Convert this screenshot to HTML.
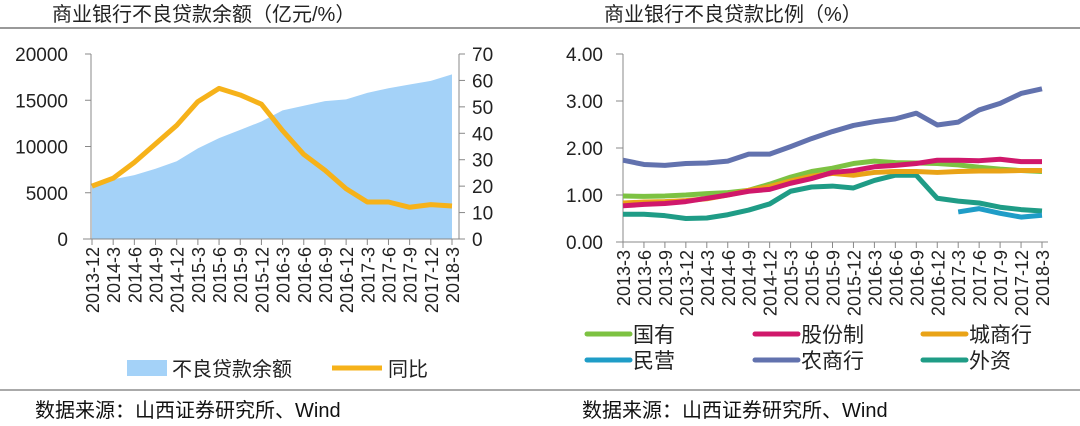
<!DOCTYPE html>
<html><head><meta charset="utf-8"><style>
body{margin:0;background:#fff;width:1080px;height:421px;overflow:hidden}
svg text{font-family:"Liberation Sans","Noto Sans CJK SC",sans-serif}
</style></head><body>
<svg id="s" width="1080" height="421" xmlns="http://www.w3.org/2000/svg">
<line x1="0" y1="28" x2="1080" y2="28" stroke="#333" stroke-width="1"/>
<line x1="0" y1="390" x2="1080" y2="390" stroke="#555" stroke-width="1"/>
<text x="52" y="21" font-size="20" fill="#222">商业银行不良贷款余额（亿元/%）</text>
<text x="604" y="21" font-size="20" fill="#222">商业银行不良贷款比例（%）</text>
<text x="35" y="417" font-size="20" fill="#111">数据来源：山西证券研究所、Wind</text>
<text x="582" y="417" font-size="20" fill="#111">数据来源：山西证券研究所、Wind</text>
<g id="L"></g><g id="R"></g>
<rect x="127" y="360" width="40" height="16" fill="#a4d2f8"/>
<text x="172" y="376" font-size="20" fill="#222" font-family="Liberation Serif,Noto Serif CJK SC,serif">不良贷款余额</text>
<line x1="332" y1="368" x2="382" y2="368" stroke="#f6b21a" stroke-width="5"/>
<text x="388" y="376" font-size="20" fill="#222" font-family="Liberation Serif,Noto Serif CJK SC,serif">同比</text>
</svg>
<script>
const NS="http://www.w3.org/2000/svg";
const leftCats=["2013-12","2014-3","2014-6","2014-9","2014-12","2015-3","2015-6","2015-9","2015-12","2016-3","2016-6","2016-9","2016-12","2017-3","2017-6","2017-9","2017-12","2018-3"];
const nplBalance=[5900,6450,6900,7600,8400,9800,10900,11800,12700,13900,14400,14900,15100,15800,16300,16700,17100,17800];
const nplYoy=[20,23,29,36,43,52,57,54.5,51,41,32,26,19,14,14,12,13,12.5];
const leftTicks=[0,5000,10000,15000,20000];
const rightTicksL=[0,10,20,30,40,50,60,70];
const rightCats=["2013-3","2013-6","2013-9","2013-12","2014-3","2014-6","2014-9","2014-12","2015-3","2015-6","2015-9","2015-12","2016-3","2016-6","2016-9","2016-12","2017-3","2017-6","2017-9","2017-12","2018-3"];
const stateOwned=[0.98,0.97,0.98,1.0,1.03,1.05,1.1,1.23,1.38,1.5,1.57,1.67,1.72,1.69,1.68,1.67,1.64,1.59,1.55,1.52,1.5];
const jointStock=[0.77,0.8,0.82,0.86,0.93,1.0,1.08,1.12,1.25,1.35,1.48,1.52,1.6,1.63,1.67,1.74,1.74,1.73,1.76,1.71,1.71];
const cityBank=[0.83,0.85,0.86,0.88,0.92,1.0,1.1,1.18,1.3,1.4,1.46,1.42,1.48,1.5,1.5,1.48,1.5,1.51,1.51,1.52,1.52];
const privateBank=[null,null,null,null,null,null,null,null,null,null,null,null,null,null,null,null,0.64,0.71,0.61,0.53,0.57];
const ruralBank=[1.74,1.65,1.63,1.67,1.68,1.72,1.87,1.87,2.03,2.2,2.35,2.48,2.56,2.62,2.74,2.49,2.55,2.81,2.95,3.16,3.26];
const foreignBank=[0.59,0.59,0.56,0.5,0.51,0.58,0.68,0.81,1.08,1.17,1.19,1.15,1.31,1.42,1.42,0.93,0.87,0.83,0.74,0.69,0.66];
const ratioTicks=[0,1,2,3,4];
const seriesNames=["国有","股份制","城商行","民营","农商行","外资"];

function el(t,a,p){const e=document.createElementNS(NS,t);for(const k in a)e.setAttribute(k,a[k]);p.appendChild(e);return e;}
const L=document.getElementById('L'),R=document.getElementById('R');
const lx0=92,lx1=452,ly0=239,ly1=54;
const lx=i=>lx0+i*(lx1-lx0)/(leftCats.length-1);
const ly=v=>ly0-(v/20000)*(ly0-ly1);
const ry=v=>ly0-(v/70)*(ly0-ly1);
let d=`M${lx(0)},${ly0}`;nplBalance.forEach((v,i)=>d+=` L${lx(i)},${ly(v)}`);d+=` L${lx(nplBalance.length-1)},${ly0}Z`;
let a=el('path',{d,fill:'#a4d2f8'},L);


el('line',{x1:lx0-1,y1:ly1,x2:lx0-1,y2:ly0,stroke:'#888'},L);
el('line',{x1:459,y1:ly1,x2:459,y2:ly0,stroke:'#888'},L);
el('line',{x1:lx0-9,y1:ly0,x2:459,y2:ly0,stroke:'#888'},L);
leftTicks.forEach(v=>{el('line',{x1:lx0-7,y1:ly(v),x2:lx0-1,y2:ly(v),stroke:'#888'},L);
 const t=el('text',{x:68,y:ly(v)+7,'font-size':19,'text-anchor':'end',fill:'#222'},L);t.textContent=v;
 
 });
rightTicksL.forEach(v=>{el('line',{x1:459,y1:ry(v),x2:465,y2:ry(v),stroke:'#888'},L);
 const t=el('text',{x:472,y:ry(v)+7,'font-size':19,fill:'#222'},L);t.textContent=v;
 
 });
leftCats.forEach((c,i)=>{el('line',{x1:lx(i),y1:ly0,x2:lx(i),y2:ly0+6,stroke:'#888'},L);
 const t=el('text',{x:0,y:0,'font-size':18,'text-anchor':'end',fill:'#222',transform:`translate(${lx(i)+7},${ly0+8}) rotate(-90)`},L);t.textContent=c;
 
 });
let pl=el('polyline',{points:nplYoy.map((v,i)=>lx(i)+','+ry(v)).join(' '),fill:'none',stroke:'#f6b21a','stroke-width':5,'stroke-linejoin':'round'},L);


const rx0=623,rx1=1042,ry0=242,ry1=54;
const rx=i=>rx0+i*(rx1-rx0)/(rightCats.length-1);
const rv=v=>ry0-(v/4)*(ry0-ry1);
el('line',{x1:rx0,y1:ry1,x2:rx0,y2:ry0,stroke:'#888'},R);
el('line',{x1:rx0-7,y1:ry0,x2:1048,y2:ry0,stroke:'#888'},R);
ratioTicks.forEach(v=>{el('line',{x1:rx0-7,y1:rv(v),x2:rx0,y2:rv(v),stroke:'#888'},R);
 const t=el('text',{x:603,y:rv(v)+7,'font-size':19,'text-anchor':'end',fill:'#222'},R);t.textContent=v.toFixed(2);
 
 });
rightCats.forEach((c,i)=>{el('line',{x1:rx(i),y1:ry0,x2:rx(i),y2:ry0+6,stroke:'#888'},R);
 const t=el('text',{x:0,y:0,'font-size':18,'text-anchor':'end',fill:'#222',transform:`translate(${rx(i)+7},${ry0+8}) rotate(-90)`},R);t.textContent=c;
 
 });
const series=[[stateOwned,'#7dc242','state-owned'],[jointStock,'#d0186b','joint-stock'],[cityBank,'#e9a317','city-bank'],[privateBank,'#1f9dc7','private-bank'],[ruralBank,'#6272ae','rural-bank'],[foreignBank,'#1f9c86','foreign-bank']];
const order=[4,5,3,0,2,1];
order.forEach(k=>{const [arr,col,nm]=series[k];
 const pts=[];arr.forEach((v,i)=>{if(v!=null)pts.push(rx(i)+','+rv(v));});
 const p=el('polyline',{points:pts.join(' '),fill:'none',stroke:col,'stroke-width':5,'stroke-linejoin':'round'},R);
 
 });
const lgx=[587,755,923],lgy=[334,360];
series.forEach((s,k)=>{const x=lgx[k%3],y=lgy[Math.floor(k/3)];
 const l=el('line',{x1:x,y1:y,x2:x+43,y2:y,stroke:s[1],'stroke-width':5,'stroke-linecap':'round'},R);
 
 
 const t=el('text',{x:x+46,y:y+8,'font-size':21,fill:'#222','font-family':'Liberation Serif,Noto Serif CJK SC,serif'},R);t.textContent=seriesNames[k];
 
 });
</script>
</body></html>
